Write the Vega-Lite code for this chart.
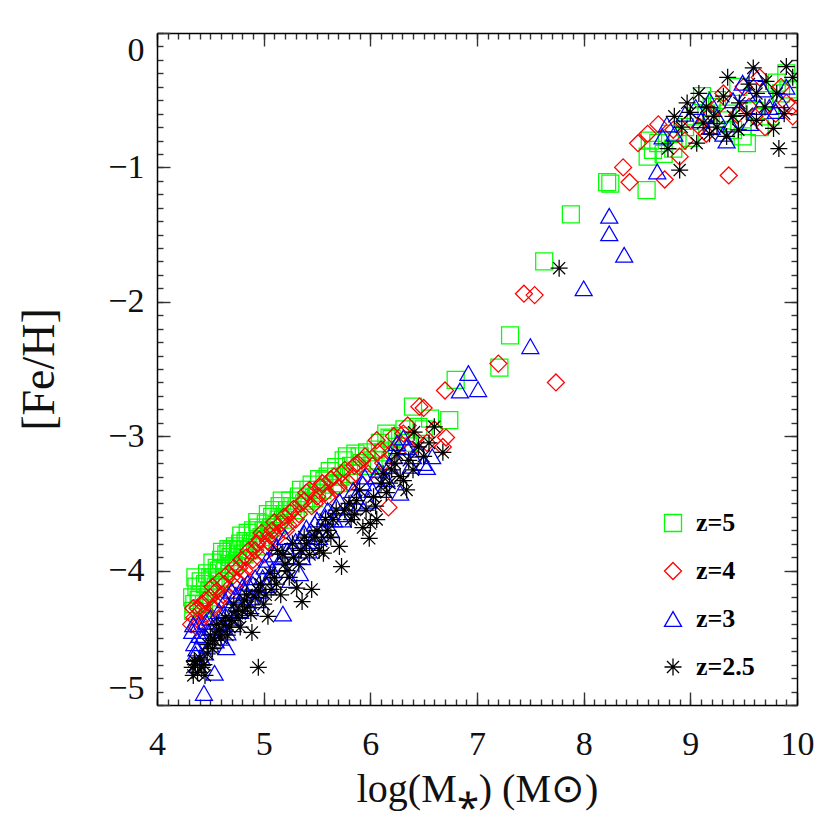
{
  "$schema": "https://vega.github.io/schema/vega-lite/v6.json",
  "width": 640,
  "height": 672,
  "autosize": {"type": "none"},
  "padding": {"left": 157, "top": 33, "right": 33, "bottom": 125},
  "background": "white",
  "config": {
    "view": {"stroke": null},
    "axis": {
      "domainColor": "#000000",
      "domainWidth": 1.5,
      "tickColor": "#333333",
      "tickWidth": 1.4,
      "grid": false,
      "labelFont": "Liberation Serif",
      "labelColor": "#111111",
      "titleFont": "Liberation Serif",
      "titleFontWeight": "normal",
      "titleColor": "#111111",
      "labelOverlap": false,
      "labelBound": false
    }
  },
  "data": {
    "values": [
      {"x": 4.33, "y": -4.20, "z": "z=5"}, {"x": 4.35, "y": -4.25, "z": "z=5"}, {"x": 4.37, "y": -4.12, "z": "z=5"}, {"x": 4.40, "y": -4.18, "z": "z=5"},
      {"x": 4.42, "y": -4.28, "z": "z=5"}, {"x": 4.45, "y": -4.10, "z": "z=5"}, {"x": 4.48, "y": -4.20, "z": "z=5"}, {"x": 4.50, "y": -4.05, "z": "z=5"},
      {"x": 4.52, "y": -3.94, "z": "z=5"}, {"x": 4.55, "y": -4.12, "z": "z=5"}, {"x": 4.58, "y": -4.00, "z": "z=5"}, {"x": 4.60, "y": -3.92, "z": "z=5"},
      {"x": 4.63, "y": -4.05, "z": "z=5"}, {"x": 4.65, "y": -3.88, "z": "z=5"}, {"x": 4.68, "y": -3.95, "z": "z=5"}, {"x": 4.70, "y": -3.85, "z": "z=5"},
      {"x": 4.73, "y": -3.82, "z": "z=5"}, {"x": 4.75, "y": -3.93, "z": "z=5"}, {"x": 4.78, "y": -3.80, "z": "z=5"}, {"x": 4.80, "y": -3.88, "z": "z=5"},
      {"x": 4.83, "y": -3.78, "z": "z=5"}, {"x": 4.86, "y": -3.85, "z": "z=5"}, {"x": 4.90, "y": -3.70, "z": "z=5"}, {"x": 4.92, "y": -3.78, "z": "z=5"},
      {"x": 4.95, "y": -3.68, "z": "z=5"}, {"x": 4.98, "y": -3.75, "z": "z=5"}, {"x": 5.02, "y": -3.65, "z": "z=5"}, {"x": 5.05, "y": -3.72, "z": "z=5"},
      {"x": 5.08, "y": -3.60, "z": "z=5"}, {"x": 5.12, "y": -3.66, "z": "z=5"}, {"x": 5.15, "y": -3.52, "z": "z=5"}, {"x": 5.18, "y": -3.62, "z": "z=5"},
      {"x": 5.22, "y": -3.55, "z": "z=5"}, {"x": 5.25, "y": -3.48, "z": "z=5"}, {"x": 5.30, "y": -3.55, "z": "z=5"}, {"x": 5.33, "y": -3.45, "z": "z=5"},
      {"x": 5.38, "y": -3.50, "z": "z=5"}, {"x": 5.42, "y": -3.40, "z": "z=5"}, {"x": 5.47, "y": -3.46, "z": "z=5"}, {"x": 5.52, "y": -3.32, "z": "z=5"},
      {"x": 5.55, "y": -3.40, "z": "z=5"}, {"x": 5.60, "y": -3.30, "z": "z=5"}, {"x": 5.65, "y": -3.36, "z": "z=5"}, {"x": 5.68, "y": -3.23, "z": "z=5"},
      {"x": 5.72, "y": -3.30, "z": "z=5"}, {"x": 5.78, "y": -3.15, "z": "z=5"}, {"x": 5.82, "y": -3.22, "z": "z=5"}, {"x": 5.86, "y": -3.13, "z": "z=5"},
      {"x": 5.92, "y": -3.20, "z": "z=5"}, {"x": 5.97, "y": -3.12, "z": "z=5"}, {"x": 6.03, "y": -3.18, "z": "z=5"}, {"x": 6.09, "y": -3.05, "z": "z=5"},
      {"x": 6.15, "y": -2.98, "z": "z=5"}, {"x": 6.18, "y": -3.01, "z": "z=5"}, {"x": 6.25, "y": -3.08, "z": "z=5"}, {"x": 6.32, "y": -2.95, "z": "z=5"},
      {"x": 4.34, "y": -4.30, "z": "z=5"}, {"x": 4.36, "y": -4.05, "z": "z=5"}, {"x": 4.39, "y": -4.22, "z": "z=5"}, {"x": 4.41, "y": -4.08, "z": "z=5"},
      {"x": 4.44, "y": -4.25, "z": "z=5"}, {"x": 4.47, "y": -4.02, "z": "z=5"}, {"x": 4.49, "y": -4.15, "z": "z=5"}, {"x": 4.53, "y": -4.05, "z": "z=5"},
      {"x": 4.56, "y": -3.98, "z": "z=5"}, {"x": 4.59, "y": -4.08, "z": "z=5"}, {"x": 4.61, "y": -3.86, "z": "z=5"}, {"x": 4.64, "y": -3.98, "z": "z=5"},
      {"x": 4.67, "y": -3.84, "z": "z=5"}, {"x": 4.69, "y": -3.90, "z": "z=5"}, {"x": 4.72, "y": -3.96, "z": "z=5"}, {"x": 4.76, "y": -3.84, "z": "z=5"},
      {"x": 4.79, "y": -3.74, "z": "z=5"}, {"x": 4.82, "y": -3.88, "z": "z=5"}, {"x": 4.85, "y": -3.72, "z": "z=5"}, {"x": 4.88, "y": -3.80, "z": "z=5"},
      {"x": 4.94, "y": -3.64, "z": "z=5"}, {"x": 4.97, "y": -3.82, "z": "z=5"}, {"x": 5.00, "y": -3.70, "z": "z=5"}, {"x": 5.04, "y": -3.58, "z": "z=5"},
      {"x": 5.07, "y": -3.68, "z": "z=5"}, {"x": 5.10, "y": -3.55, "z": "z=5"}, {"x": 5.14, "y": -3.62, "z": "z=5"}, {"x": 5.17, "y": -3.48, "z": "z=5"},
      {"x": 5.20, "y": -3.58, "z": "z=5"}, {"x": 5.27, "y": -3.52, "z": "z=5"}, {"x": 5.35, "y": -3.40, "z": "z=5"}, {"x": 5.40, "y": -3.48, "z": "z=5"},
      {"x": 5.45, "y": -3.36, "z": "z=5"}, {"x": 5.50, "y": -3.42, "z": "z=5"}, {"x": 5.57, "y": -3.33, "z": "z=5"}, {"x": 5.62, "y": -3.26, "z": "z=5"},
      {"x": 5.70, "y": -3.35, "z": "z=5"}, {"x": 5.75, "y": -3.18, "z": "z=5"}, {"x": 5.80, "y": -3.28, "z": "z=5"}, {"x": 5.90, "y": -3.15, "z": "z=5"},
      {"x": 6.00, "y": -3.22, "z": "z=5"}, {"x": 6.05, "y": -3.10, "z": "z=5"}, {"x": 6.12, "y": -3.12, "z": "z=5"}, {"x": 6.20, "y": -3.02, "z": "z=5"},
      {"x": 6.28, "y": -3.00, "z": "z=5"}, {"x": 6.35, "y": -3.05, "z": "z=5"}, {"x": 6.45, "y": -2.93, "z": "z=5"}, {"x": 6.50, "y": -2.95, "z": "z=5"},
      {"x": 6.40, "y": -2.78, "z": "z=5"}, {"x": 6.56, "y": -2.87, "z": "z=5"}, {"x": 6.74, "y": -2.88, "z": "z=5"}, {"x": 6.80, "y": -2.58, "z": "z=5"},
      {"x": 7.21, "y": -2.49, "z": "z=5"}, {"x": 7.31, "y": -2.25, "z": "z=5"}, {"x": 7.63, "y": -1.70, "z": "z=5"}, {"x": 7.88, "y": -1.35, "z": "z=5"},
      {"x": 8.22, "y": -1.11, "z": "z=5"}, {"x": 8.25, "y": -1.12, "z": "z=5"}, {"x": 8.59, "y": -1.17, "z": "z=5"}, {"x": 8.62, "y": -0.80, "z": "z=5"},
      {"x": 8.65, "y": -0.87, "z": "z=5"}, {"x": 8.60, "y": -0.92, "z": "z=5"}, {"x": 8.70, "y": -0.82, "z": "z=5"}, {"x": 8.75, "y": -0.90, "z": "z=5"},
      {"x": 8.81, "y": -0.75, "z": "z=5"}, {"x": 8.84, "y": -0.86, "z": "z=5"}, {"x": 8.88, "y": -0.80, "z": "z=5"}, {"x": 8.95, "y": -0.70, "z": "z=5"},
      {"x": 9.00, "y": -0.78, "z": "z=5"}, {"x": 9.05, "y": -0.62, "z": "z=5"}, {"x": 9.11, "y": -0.47, "z": "z=5"}, {"x": 9.15, "y": -0.60, "z": "z=5"},
      {"x": 9.20, "y": -0.55, "z": "z=5"}, {"x": 9.25, "y": -0.50, "z": "z=5"}, {"x": 9.30, "y": -0.65, "z": "z=5"}, {"x": 9.35, "y": -0.60, "z": "z=5"},
      {"x": 9.40, "y": -0.72, "z": "z=5"}, {"x": 9.45, "y": -0.40, "z": "z=5"}, {"x": 9.49, "y": -0.77, "z": "z=5"}, {"x": 9.53, "y": -0.82, "z": "z=5"},
      {"x": 9.60, "y": -0.58, "z": "z=5"}, {"x": 9.65, "y": -0.70, "z": "z=5"}, {"x": 9.70, "y": -0.50, "z": "z=5"}, {"x": 9.75, "y": -0.62, "z": "z=5"},
      {"x": 9.81, "y": -0.37, "z": "z=5"}, {"x": 9.85, "y": -0.45, "z": "z=5"}, {"x": 9.90, "y": -0.30, "z": "z=5"}, {"x": 9.92, "y": -0.42, "z": "z=5"},

      {"x": 4.32, "y": -4.40, "z": "z=4"}, {"x": 4.35, "y": -4.35, "z": "z=4"}, {"x": 4.38, "y": -4.28, "z": "z=4"}, {"x": 4.40, "y": -4.38, "z": "z=4"},
      {"x": 4.43, "y": -4.25, "z": "z=4"}, {"x": 4.46, "y": -4.32, "z": "z=4"}, {"x": 4.50, "y": -4.20, "z": "z=4"}, {"x": 4.53, "y": -4.28, "z": "z=4"},
      {"x": 4.56, "y": -4.15, "z": "z=4"}, {"x": 4.60, "y": -4.22, "z": "z=4"}, {"x": 4.63, "y": -4.10, "z": "z=4"}, {"x": 4.66, "y": -4.18, "z": "z=4"},
      {"x": 4.70, "y": -4.05, "z": "z=4"}, {"x": 4.73, "y": -4.12, "z": "z=4"}, {"x": 4.77, "y": -3.98, "z": "z=4"}, {"x": 4.80, "y": -4.05, "z": "z=4"},
      {"x": 4.84, "y": -3.90, "z": "z=4"}, {"x": 4.88, "y": -3.97, "z": "z=4"}, {"x": 4.92, "y": -3.85, "z": "z=4"}, {"x": 4.96, "y": -3.77, "z": "z=4"},
      {"x": 5.00, "y": -3.88, "z": "z=4"}, {"x": 5.04, "y": -3.78, "z": "z=4"}, {"x": 5.08, "y": -3.70, "z": "z=4"}, {"x": 5.12, "y": -3.76, "z": "z=4"},
      {"x": 5.16, "y": -3.65, "z": "z=4"}, {"x": 5.21, "y": -3.70, "z": "z=4"}, {"x": 5.25, "y": -3.57, "z": "z=4"}, {"x": 5.30, "y": -3.62, "z": "z=4"},
      {"x": 5.35, "y": -3.50, "z": "z=4"}, {"x": 5.40, "y": -3.42, "z": "z=4"}, {"x": 5.45, "y": -3.52, "z": "z=4"}, {"x": 5.50, "y": -3.45, "z": "z=4"},
      {"x": 5.53, "y": -3.38, "z": "z=4"}, {"x": 5.58, "y": -3.42, "z": "z=4"}, {"x": 5.63, "y": -3.32, "z": "z=4"}, {"x": 5.68, "y": -3.40, "z": "z=4"},
      {"x": 5.73, "y": -3.28, "z": "z=4"}, {"x": 5.80, "y": -3.35, "z": "z=4"}, {"x": 5.85, "y": -3.22, "z": "z=4"}, {"x": 5.92, "y": -3.18, "z": "z=4"},
      {"x": 5.98, "y": -3.28, "z": "z=4"}, {"x": 6.06, "y": -3.03, "z": "z=4"}, {"x": 6.07, "y": -3.12, "z": "z=4"}, {"x": 6.12, "y": -3.20, "z": "z=4"},
      {"x": 4.34, "y": -4.28, "z": "z=4"}, {"x": 4.37, "y": -4.42, "z": "z=4"}, {"x": 4.41, "y": -4.30, "z": "z=4"}, {"x": 4.45, "y": -4.22, "z": "z=4"},
      {"x": 4.48, "y": -4.35, "z": "z=4"}, {"x": 4.52, "y": -4.12, "z": "z=4"}, {"x": 4.55, "y": -4.25, "z": "z=4"}, {"x": 4.58, "y": -4.08, "z": "z=4"},
      {"x": 4.62, "y": -4.18, "z": "z=4"}, {"x": 4.67, "y": -4.02, "z": "z=4"}, {"x": 4.72, "y": -3.98, "z": "z=4"}, {"x": 4.75, "y": -4.08, "z": "z=4"},
      {"x": 4.79, "y": -3.92, "z": "z=4"}, {"x": 4.82, "y": -4.00, "z": "z=4"}, {"x": 4.86, "y": -3.85, "z": "z=4"}, {"x": 4.90, "y": -3.92, "z": "z=4"},
      {"x": 4.94, "y": -3.80, "z": "z=4"}, {"x": 4.98, "y": -3.72, "z": "z=4"}, {"x": 5.02, "y": -3.82, "z": "z=4"}, {"x": 5.06, "y": -3.74, "z": "z=4"},
      {"x": 5.10, "y": -3.64, "z": "z=4"}, {"x": 5.14, "y": -3.72, "z": "z=4"}, {"x": 5.19, "y": -3.60, "z": "z=4"}, {"x": 5.23, "y": -3.66, "z": "z=4"},
      {"x": 5.28, "y": -3.54, "z": "z=4"}, {"x": 5.33, "y": -3.58, "z": "z=4"}, {"x": 5.38, "y": -3.48, "z": "z=4"}, {"x": 5.43, "y": -3.40, "z": "z=4"},
      {"x": 5.48, "y": -3.50, "z": "z=4"}, {"x": 5.55, "y": -3.35, "z": "z=4"}, {"x": 5.60, "y": -3.45, "z": "z=4"}, {"x": 5.66, "y": -3.30, "z": "z=4"},
      {"x": 5.70, "y": -3.38, "z": "z=4"}, {"x": 5.76, "y": -3.25, "z": "z=4"}, {"x": 5.83, "y": -3.30, "z": "z=4"}, {"x": 5.88, "y": -3.20, "z": "z=4"},
      {"x": 5.95, "y": -3.15, "z": "z=4"}, {"x": 6.02, "y": -3.22, "z": "z=4"}, {"x": 6.10, "y": -3.10, "z": "z=4"}, {"x": 6.20, "y": -3.12, "z": "z=4"},
      {"x": 6.28, "y": -3.05, "z": "z=4"}, {"x": 6.35, "y": -2.92, "z": "z=4"}, {"x": 6.42, "y": -3.02, "z": "z=4"}, {"x": 6.60, "y": -2.95, "z": "z=4"},
      {"x": 6.17, "y": -3.53, "z": "z=4"}, {"x": 6.22, "y": -3.00, "z": "z=4"}, {"x": 6.31, "y": -2.98, "z": "z=4"}, {"x": 6.38, "y": -3.10, "z": "z=4"},
      {"x": 6.46, "y": -2.78, "z": "z=4"}, {"x": 6.50, "y": -2.79, "z": "z=4"}, {"x": 6.53, "y": -3.05, "z": "z=4"}, {"x": 6.68, "y": -3.08, "z": "z=4"},
      {"x": 6.71, "y": -3.01, "z": "z=4"}, {"x": 6.70, "y": -2.66, "z": "z=4"}, {"x": 7.20, "y": -2.46, "z": "z=4"}, {"x": 7.44, "y": -1.94, "z": "z=4"},
      {"x": 7.54, "y": -1.95, "z": "z=4"}, {"x": 7.74, "y": -2.60, "z": "z=4"}, {"x": 8.37, "y": -1.00, "z": "z=4"}, {"x": 8.43, "y": -1.11, "z": "z=4"},
      {"x": 8.51, "y": -0.82, "z": "z=4"}, {"x": 8.60, "y": -0.75, "z": "z=4"}, {"x": 8.70, "y": -0.68, "z": "z=4"}, {"x": 8.76, "y": -1.09, "z": "z=4"},
      {"x": 8.84, "y": -0.72, "z": "z=4"}, {"x": 8.90, "y": -0.92, "z": "z=4"}, {"x": 8.95, "y": -0.80, "z": "z=4"}, {"x": 9.00, "y": -0.65, "z": "z=4"},
      {"x": 9.09, "y": -0.70, "z": "z=4"}, {"x": 9.15, "y": -0.75, "z": "z=4"}, {"x": 9.20, "y": -0.60, "z": "z=4"}, {"x": 9.25, "y": -0.55, "z": "z=4"},
      {"x": 9.31, "y": -0.45, "z": "z=4"}, {"x": 9.36, "y": -1.06, "z": "z=4"}, {"x": 9.44, "y": -0.61, "z": "z=4"}, {"x": 9.50, "y": -0.40, "z": "z=4"},
      {"x": 9.55, "y": -0.55, "z": "z=4"}, {"x": 9.60, "y": -0.62, "z": "z=4"}, {"x": 9.65, "y": -0.33, "z": "z=4"}, {"x": 9.70, "y": -0.70, "z": "z=4"},
      {"x": 9.80, "y": -0.60, "z": "z=4"}, {"x": 9.85, "y": -0.40, "z": "z=4"}, {"x": 9.90, "y": -0.52, "z": "z=4"}, {"x": 9.95, "y": -0.55, "z": "z=4"},
      {"x": 9.96, "y": -0.62, "z": "z=4"},

      {"x": 4.34, "y": -4.40, "z": "z=3"}, {"x": 4.35, "y": -4.54, "z": "z=3"}, {"x": 4.36, "y": -4.62, "z": "z=3"}, {"x": 4.38, "y": -4.70, "z": "z=3"},
      {"x": 4.40, "y": -4.48, "z": "z=3"}, {"x": 4.43, "y": -4.49, "z": "z=3"}, {"x": 4.44, "y": -4.91, "z": "z=3"}, {"x": 4.45, "y": -4.61, "z": "z=3"},
      {"x": 4.48, "y": -4.45, "z": "z=3"}, {"x": 4.50, "y": -4.35, "z": "z=3"}, {"x": 4.54, "y": -4.76, "z": "z=3"}, {"x": 4.55, "y": -4.52, "z": "z=3"},
      {"x": 4.58, "y": -4.30, "z": "z=3"}, {"x": 4.62, "y": -4.42, "z": "z=3"}, {"x": 4.64, "y": -4.22, "z": "z=3"}, {"x": 4.65, "y": -4.57, "z": "z=3"},
      {"x": 4.66, "y": -4.46, "z": "z=3"}, {"x": 4.70, "y": -4.15, "z": "z=3"}, {"x": 4.72, "y": -4.35, "z": "z=3"}, {"x": 4.76, "y": -4.25, "z": "z=3"},
      {"x": 4.80, "y": -4.12, "z": "z=3"}, {"x": 4.85, "y": -4.09, "z": "z=3"}, {"x": 4.88, "y": -4.20, "z": "z=3"}, {"x": 4.92, "y": -4.05, "z": "z=3"},
      {"x": 4.96, "y": -4.15, "z": "z=3"}, {"x": 5.01, "y": -3.97, "z": "z=3"}, {"x": 5.03, "y": -4.11, "z": "z=3"}, {"x": 5.05, "y": -4.05, "z": "z=3"},
      {"x": 5.10, "y": -3.88, "z": "z=3"}, {"x": 5.15, "y": -3.95, "z": "z=3"}, {"x": 5.18, "y": -4.32, "z": "z=3"}, {"x": 5.20, "y": -3.75, "z": "z=3"},
      {"x": 5.25, "y": -4.07, "z": "z=3"}, {"x": 5.28, "y": -3.82, "z": "z=3"}, {"x": 5.34, "y": -4.02, "z": "z=3"}, {"x": 5.38, "y": -3.72, "z": "z=3"},
      {"x": 5.42, "y": -3.85, "z": "z=3"}, {"x": 5.48, "y": -3.65, "z": "z=3"}, {"x": 5.52, "y": -3.75, "z": "z=3"}, {"x": 5.58, "y": -3.60, "z": "z=3"},
      {"x": 5.63, "y": -3.70, "z": "z=3"}, {"x": 5.68, "y": -3.52, "z": "z=3"}, {"x": 5.74, "y": -3.62, "z": "z=3"}, {"x": 5.81, "y": -3.53, "z": "z=3"},
      {"x": 5.86, "y": -3.45, "z": "z=3"}, {"x": 5.93, "y": -3.35, "z": "z=3"}, {"x": 5.98, "y": -3.48, "z": "z=3"}, {"x": 6.05, "y": -3.30, "z": "z=3"},
      {"x": 6.12, "y": -3.40, "z": "z=3"}, {"x": 6.18, "y": -3.22, "z": "z=3"}, {"x": 6.25, "y": -3.05, "z": "z=3"}, {"x": 6.28, "y": -3.42, "z": "z=3"},
      {"x": 4.33, "y": -4.45, "z": "z=3"}, {"x": 4.37, "y": -4.58, "z": "z=3"}, {"x": 4.39, "y": -4.40, "z": "z=3"}, {"x": 4.42, "y": -4.65, "z": "z=3"},
      {"x": 4.46, "y": -4.38, "z": "z=3"}, {"x": 4.50, "y": -4.55, "z": "z=3"}, {"x": 4.52, "y": -4.42, "z": "z=3"}, {"x": 4.57, "y": -4.38, "z": "z=3"},
      {"x": 4.60, "y": -4.50, "z": "z=3"}, {"x": 4.63, "y": -4.32, "z": "z=3"}, {"x": 4.68, "y": -4.28, "z": "z=3"}, {"x": 4.71, "y": -4.40, "z": "z=3"},
      {"x": 4.74, "y": -4.18, "z": "z=3"}, {"x": 4.78, "y": -4.30, "z": "z=3"}, {"x": 4.83, "y": -4.15, "z": "z=3"}, {"x": 4.87, "y": -4.28, "z": "z=3"},
      {"x": 4.90, "y": -4.10, "z": "z=3"}, {"x": 4.94, "y": -4.22, "z": "z=3"}, {"x": 4.99, "y": -4.05, "z": "z=3"}, {"x": 5.03, "y": -3.92, "z": "z=3"},
      {"x": 5.08, "y": -4.00, "z": "z=3"}, {"x": 5.12, "y": -3.82, "z": "z=3"}, {"x": 5.17, "y": -3.90, "z": "z=3"}, {"x": 5.22, "y": -3.85, "z": "z=3"},
      {"x": 5.30, "y": -3.78, "z": "z=3"}, {"x": 5.36, "y": -3.90, "z": "z=3"}, {"x": 5.40, "y": -3.68, "z": "z=3"}, {"x": 5.45, "y": -3.78, "z": "z=3"},
      {"x": 5.50, "y": -3.62, "z": "z=3"}, {"x": 5.55, "y": -3.70, "z": "z=3"}, {"x": 5.60, "y": -3.55, "z": "z=3"}, {"x": 5.66, "y": -3.62, "z": "z=3"},
      {"x": 5.71, "y": -3.48, "z": "z=3"}, {"x": 5.77, "y": -3.58, "z": "z=3"}, {"x": 5.84, "y": -3.40, "z": "z=3"}, {"x": 5.90, "y": -3.50, "z": "z=3"},
      {"x": 5.95, "y": -3.30, "z": "z=3"}, {"x": 6.02, "y": -3.40, "z": "z=3"}, {"x": 6.08, "y": -3.25, "z": "z=3"}, {"x": 6.15, "y": -3.32, "z": "z=3"},
      {"x": 6.22, "y": -3.15, "z": "z=3"}, {"x": 6.38, "y": -3.22, "z": "z=3"}, {"x": 6.45, "y": -3.10, "z": "z=3"}, {"x": 6.58, "y": -3.15, "z": "z=3"},
      {"x": 6.31, "y": -3.01, "z": "z=3"}, {"x": 6.34, "y": -3.08, "z": "z=3"}, {"x": 6.40, "y": -3.15, "z": "z=3"}, {"x": 6.50, "y": -3.20, "z": "z=3"},
      {"x": 6.53, "y": -3.23, "z": "z=3"}, {"x": 6.84, "y": -2.66, "z": "z=3"}, {"x": 6.92, "y": -2.53, "z": "z=3"}, {"x": 7.01, "y": -2.65, "z": "z=3"},
      {"x": 7.50, "y": -2.33, "z": "z=3"}, {"x": 8.00, "y": -1.90, "z": "z=3"}, {"x": 8.24, "y": -1.36, "z": "z=3"}, {"x": 8.24, "y": -1.49, "z": "z=3"},
      {"x": 8.38, "y": -1.65, "z": "z=3"}, {"x": 8.69, "y": -1.03, "z": "z=3"}, {"x": 8.74, "y": -0.77, "z": "z=3"}, {"x": 8.78, "y": -0.68, "z": "z=3"},
      {"x": 8.85, "y": -0.75, "z": "z=3"}, {"x": 8.95, "y": -0.60, "z": "z=3"}, {"x": 9.05, "y": -0.55, "z": "z=3"}, {"x": 9.10, "y": -0.65, "z": "z=3"},
      {"x": 9.18, "y": -0.50, "z": "z=3"}, {"x": 9.20, "y": -0.70, "z": "z=3"}, {"x": 9.25, "y": -0.62, "z": "z=3"}, {"x": 9.31, "y": -0.75, "z": "z=3"},
      {"x": 9.34, "y": -0.80, "z": "z=3"}, {"x": 9.38, "y": -0.68, "z": "z=3"}, {"x": 9.40, "y": -0.50, "z": "z=3"}, {"x": 9.46, "y": -0.56, "z": "z=3"},
      {"x": 9.49, "y": -0.37, "z": "z=3"}, {"x": 9.53, "y": -0.45, "z": "z=3"}, {"x": 9.56, "y": -0.67, "z": "z=3"}, {"x": 9.60, "y": -0.30, "z": "z=3"},
      {"x": 9.65, "y": -0.55, "z": "z=3"}, {"x": 9.68, "y": -0.42, "z": "z=3"}, {"x": 9.74, "y": -0.55, "z": "z=3"}, {"x": 9.80, "y": -0.58, "z": "z=3"},
      {"x": 9.84, "y": -0.50, "z": "z=3"}, {"x": 9.90, "y": -0.40, "z": "z=3"},

      {"x": 4.33, "y": -4.72, "z": "z=2.5"}, {"x": 4.35, "y": -4.67, "z": "z=2.5"}, {"x": 4.38, "y": -4.76, "z": "z=2.5"}, {"x": 4.42, "y": -4.72, "z": "z=2.5"},
      {"x": 4.45, "y": -4.78, "z": "z=2.5"}, {"x": 4.48, "y": -4.55, "z": "z=2.5"}, {"x": 4.54, "y": -4.52, "z": "z=2.5"}, {"x": 4.58, "y": -4.45, "z": "z=2.5"},
      {"x": 4.62, "y": -4.40, "z": "z=2.5"}, {"x": 4.66, "y": -4.48, "z": "z=2.5"}, {"x": 4.70, "y": -4.37, "z": "z=2.5"}, {"x": 4.74, "y": -4.30, "z": "z=2.5"},
      {"x": 4.78, "y": -4.42, "z": "z=2.5"}, {"x": 4.82, "y": -4.22, "z": "z=2.5"}, {"x": 4.85, "y": -4.27, "z": "z=2.5"}, {"x": 4.89, "y": -4.46, "z": "z=2.5"},
      {"x": 4.92, "y": -4.20, "z": "z=2.5"}, {"x": 4.95, "y": -4.72, "z": "z=2.5"}, {"x": 4.97, "y": -4.10, "z": "z=2.5"}, {"x": 5.00, "y": -4.25, "z": "z=2.5"},
      {"x": 5.04, "y": -4.34, "z": "z=2.5"}, {"x": 5.07, "y": -4.14, "z": "z=2.5"}, {"x": 5.10, "y": -4.05, "z": "z=2.5"}, {"x": 5.13, "y": -3.85, "z": "z=2.5"},
      {"x": 5.16, "y": -4.18, "z": "z=2.5"}, {"x": 5.20, "y": -3.95, "z": "z=2.5"}, {"x": 5.24, "y": -4.05, "z": "z=2.5"}, {"x": 5.28, "y": -3.90, "z": "z=2.5"},
      {"x": 5.31, "y": -4.13, "z": "z=2.5"}, {"x": 5.35, "y": -3.85, "z": "z=2.5"}, {"x": 5.36, "y": -4.23, "z": "z=2.5"}, {"x": 5.40, "y": -3.80, "z": "z=2.5"},
      {"x": 5.45, "y": -4.14, "z": "z=2.5"}, {"x": 5.48, "y": -3.75, "z": "z=2.5"}, {"x": 5.52, "y": -3.85, "z": "z=2.5"}, {"x": 5.56, "y": -3.87, "z": "z=2.5"},
      {"x": 5.60, "y": -3.70, "z": "z=2.5"}, {"x": 5.65, "y": -3.62, "z": "z=2.5"}, {"x": 5.71, "y": -3.82, "z": "z=2.5"}, {"x": 5.73, "y": -3.97, "z": "z=2.5"},
      {"x": 5.76, "y": -3.55, "z": "z=2.5"}, {"x": 5.82, "y": -3.62, "z": "z=2.5"}, {"x": 5.87, "y": -3.48, "z": "z=2.5"}, {"x": 5.93, "y": -3.68, "z": "z=2.5"},
      {"x": 5.99, "y": -3.76, "z": "z=2.5"}, {"x": 6.00, "y": -3.65, "z": "z=2.5"}, {"x": 6.03, "y": -3.45, "z": "z=2.5"}, {"x": 6.06, "y": -3.62, "z": "z=2.5"},
      {"x": 4.34, "y": -4.78, "z": "z=2.5"}, {"x": 4.36, "y": -4.70, "z": "z=2.5"}, {"x": 4.40, "y": -4.65, "z": "z=2.5"}, {"x": 4.44, "y": -4.70, "z": "z=2.5"},
      {"x": 4.47, "y": -4.62, "z": "z=2.5"}, {"x": 4.50, "y": -4.48, "z": "z=2.5"}, {"x": 4.52, "y": -4.58, "z": "z=2.5"}, {"x": 4.56, "y": -4.40, "z": "z=2.5"},
      {"x": 4.60, "y": -4.50, "z": "z=2.5"}, {"x": 4.64, "y": -4.35, "z": "z=2.5"}, {"x": 4.68, "y": -4.42, "z": "z=2.5"}, {"x": 4.72, "y": -4.25, "z": "z=2.5"},
      {"x": 4.76, "y": -4.35, "z": "z=2.5"}, {"x": 4.80, "y": -4.30, "z": "z=2.5"}, {"x": 4.84, "y": -4.18, "z": "z=2.5"}, {"x": 4.88, "y": -4.32, "z": "z=2.5"},
      {"x": 4.95, "y": -4.15, "z": "z=2.5"}, {"x": 5.02, "y": -4.18, "z": "z=2.5"}, {"x": 5.06, "y": -4.02, "z": "z=2.5"}, {"x": 5.12, "y": -4.10, "z": "z=2.5"},
      {"x": 5.18, "y": -3.88, "z": "z=2.5"}, {"x": 5.22, "y": -4.00, "z": "z=2.5"}, {"x": 5.27, "y": -3.80, "z": "z=2.5"}, {"x": 5.33, "y": -3.95, "z": "z=2.5"},
      {"x": 5.38, "y": -3.75, "z": "z=2.5"}, {"x": 5.43, "y": -3.88, "z": "z=2.5"}, {"x": 5.50, "y": -3.70, "z": "z=2.5"}, {"x": 5.54, "y": -3.78, "z": "z=2.5"},
      {"x": 5.58, "y": -3.62, "z": "z=2.5"}, {"x": 5.63, "y": -3.75, "z": "z=2.5"}, {"x": 5.68, "y": -3.55, "z": "z=2.5"}, {"x": 5.80, "y": -3.50, "z": "z=2.5"},
      {"x": 5.85, "y": -3.58, "z": "z=2.5"}, {"x": 5.90, "y": -3.40, "z": "z=2.5"}, {"x": 5.96, "y": -3.55, "z": "z=2.5"}, {"x": 6.05, "y": -3.52, "z": "z=2.5"},
      {"x": 6.12, "y": -3.28, "z": "z=2.5"}, {"x": 6.18, "y": -3.35, "z": "z=2.5"}, {"x": 6.23, "y": -3.20, "z": "z=2.5"}, {"x": 6.28, "y": -3.30, "z": "z=2.5"},
      {"x": 6.36, "y": -3.18, "z": "z=2.5"}, {"x": 6.45, "y": -3.08, "z": "z=2.5"}, {"x": 6.55, "y": -3.05, "z": "z=2.5"},
      {"x": 6.10, "y": -3.35, "z": "z=2.5"}, {"x": 6.15, "y": -3.42, "z": "z=2.5"}, {"x": 6.20, "y": -3.25, "z": "z=2.5"}, {"x": 6.25, "y": -3.13, "z": "z=2.5"},
      {"x": 6.31, "y": -3.33, "z": "z=2.5"}, {"x": 6.34, "y": -3.40, "z": "z=2.5"}, {"x": 6.40, "y": -3.25, "z": "z=2.5"}, {"x": 6.41, "y": -2.97, "z": "z=2.5"},
      {"x": 6.50, "y": -3.15, "z": "z=2.5"}, {"x": 6.60, "y": -2.93, "z": "z=2.5"}, {"x": 6.68, "y": -3.12, "z": "z=2.5"}, {"x": 7.77, "y": -1.75, "z": "z=2.5"},
      {"x": 8.79, "y": -0.86, "z": "z=2.5"}, {"x": 8.85, "y": -0.62, "z": "z=2.5"}, {"x": 8.90, "y": -1.02, "z": "z=2.5"}, {"x": 8.92, "y": -0.70, "z": "z=2.5"},
      {"x": 8.97, "y": -0.52, "z": "z=2.5"}, {"x": 9.00, "y": -0.59, "z": "z=2.5"}, {"x": 9.06, "y": -0.82, "z": "z=2.5"}, {"x": 9.08, "y": -0.45, "z": "z=2.5"},
      {"x": 9.12, "y": -0.67, "z": "z=2.5"}, {"x": 9.15, "y": -0.55, "z": "z=2.5"}, {"x": 9.18, "y": -0.75, "z": "z=2.5"}, {"x": 9.22, "y": -0.62, "z": "z=2.5"},
      {"x": 9.25, "y": -0.70, "z": "z=2.5"}, {"x": 9.31, "y": -0.47, "z": "z=2.5"}, {"x": 9.34, "y": -0.77, "z": "z=2.5"}, {"x": 9.35, "y": -0.33, "z": "z=2.5"},
      {"x": 9.40, "y": -0.62, "z": "z=2.5"}, {"x": 9.45, "y": -0.72, "z": "z=2.5"}, {"x": 9.46, "y": -0.52, "z": "z=2.5"}, {"x": 9.53, "y": -0.60, "z": "z=2.5"},
      {"x": 9.55, "y": -0.38, "z": "z=2.5"}, {"x": 9.59, "y": -0.26, "z": "z=2.5"}, {"x": 9.62, "y": -0.45, "z": "z=2.5"}, {"x": 9.62, "y": -0.65, "z": "z=2.5"},
      {"x": 9.70, "y": -0.55, "z": "z=2.5"}, {"x": 9.71, "y": -0.36, "z": "z=2.5"}, {"x": 9.78, "y": -0.71, "z": "z=2.5"}, {"x": 9.81, "y": -0.45, "z": "z=2.5"},
      {"x": 9.83, "y": -0.86, "z": "z=2.5"}, {"x": 9.88, "y": -0.60, "z": "z=2.5"}, {"x": 9.90, "y": -0.25, "z": "z=2.5"}, {"x": 9.96, "y": -0.33, "z": "z=2.5"}
    ]
  },
  "layer": [
    {
      "mark": {"type": "point", "opacity": 0},
      "encoding": {
        "x": {
          "field": "x", "type": "quantitative",
          "scale": {"domain": [4, 10], "nice": false, "zero": false},
          "axis": {"orient": "top", "title": null, "labels": false, "domain": false, "tickCount": 60, "tickSize": -6}
        },
        "y": {
          "field": "y", "type": "quantitative",
          "scale": {"domain": [-5, 0], "nice": false, "zero": false},
          "axis": {"orient": "right", "title": null, "labels": false, "domain": false, "tickCount": 50, "tickSize": -6}
        }
      }
    },
    {
      "mark": {"type": "point", "opacity": 0},
      "encoding": {
        "x": {
          "field": "x", "type": "quantitative",
          "scale": {"domain": [4, 10], "nice": false, "zero": false},
          "axis": {"orient": "top", "title": null, "labels": false, "values": [4, 5, 6, 7, 8, 9, 10], "tickSize": -13}
        },
        "y": {
          "field": "y", "type": "quantitative",
          "scale": {"domain": [-5, 0], "nice": false, "zero": false},
          "axis": {"orient": "right", "title": null, "labels": false, "values": [-5, -4, -3, -2, -1, 0], "tickSize": -13}
        }
      }
    },
    {
      "mark": {"type": "point", "opacity": 0},
      "encoding": {
        "x": {
          "field": "x", "type": "quantitative",
          "scale": {"domain": [4, 10], "nice": false, "zero": false},
          "axis": {"orient": "bottom", "title": null, "labels": false, "domain": false, "tickCount": 60, "tickSize": -6}
        },
        "y": {
          "field": "y", "type": "quantitative",
          "scale": {"domain": [-5, 0], "nice": false, "zero": false},
          "axis": {"orient": "left", "title": null, "labels": false, "domain": false, "tickCount": 50, "tickSize": -6}
        }
      }
    },
    {
      "mark": {"type": "point", "filled": false, "strokeWidth": 1.25, "size": 289, "opacity": 1, "clip": true},
      "encoding": {
        "x": {
          "field": "x", "type": "quantitative",
          "scale": {"domain": [4, 10], "nice": false, "zero": false},
          "axis": {
            "orient": "bottom", "title": "log(M⁎) (M⊙)", "titleFontSize": 40, "titlePadding": 8,
            "labelFontSize": 34, "labelPadding": 35, "labelFlush": false,
            "values": [4, 5, 6, 7, 8, 9, 10], "tickSize": -13, "format": "d"
          }
        },
        "y": {
          "field": "y", "type": "quantitative",
          "scale": {"domain": [-5, 0], "nice": false, "zero": false},
          "axis": {
            "orient": "left", "title": "[Fe/H]", "titleFontSize": 46, "titlePadding": 44,
            "labelFontSize": 34, "labelPadding": 26, "labelFlush": true,
            "values": [-5, -4, -3, -2, -1, 0], "tickSize": -13, "format": "d"
          }
        },
        "color": {
          "field": "z", "type": "nominal",
          "scale": {"domain": ["z=5", "z=4", "z=3", "z=2.5"], "range": ["#00ff00", "#ff0000", "#0000ff", "#000000"]},
          "legend": {
            "orient": "none", "legendX": 503, "legendY": 477, "title": null, "padding": 0,
            "labelFont": "Liberation Serif", "labelFontSize": 26, "labelFontWeight": "bold",
            "labelOffset": 10, "rowPadding": 22, "symbolSize": 289, "symbolStrokeWidth": 1.3,
            "encode": {"labels": {"update": {"fill": {"signal": "datum.value === 'z=5' ? '#00ff00' : datum.value === 'z=4' ? '#ff0000' : datum.value === 'z=3' ? '#0000ff' : '#000000'"}}}}
          }
        },
        "shape": {
          "field": "z", "type": "nominal",
          "scale": {"domain": ["z=5", "z=4", "z=3", "z=2.5"], "range": ["square", "diamond", "triangle-up", "M-1,0L1,0M0,-1L0,1M-0.71,-0.71L0.71,0.71M-0.71,0.71L0.71,-0.71"]},
          "legend": null
        }
      }
    }
  ],
  "resolve": {"axis": {"x": "independent", "y": "independent"}}
}
